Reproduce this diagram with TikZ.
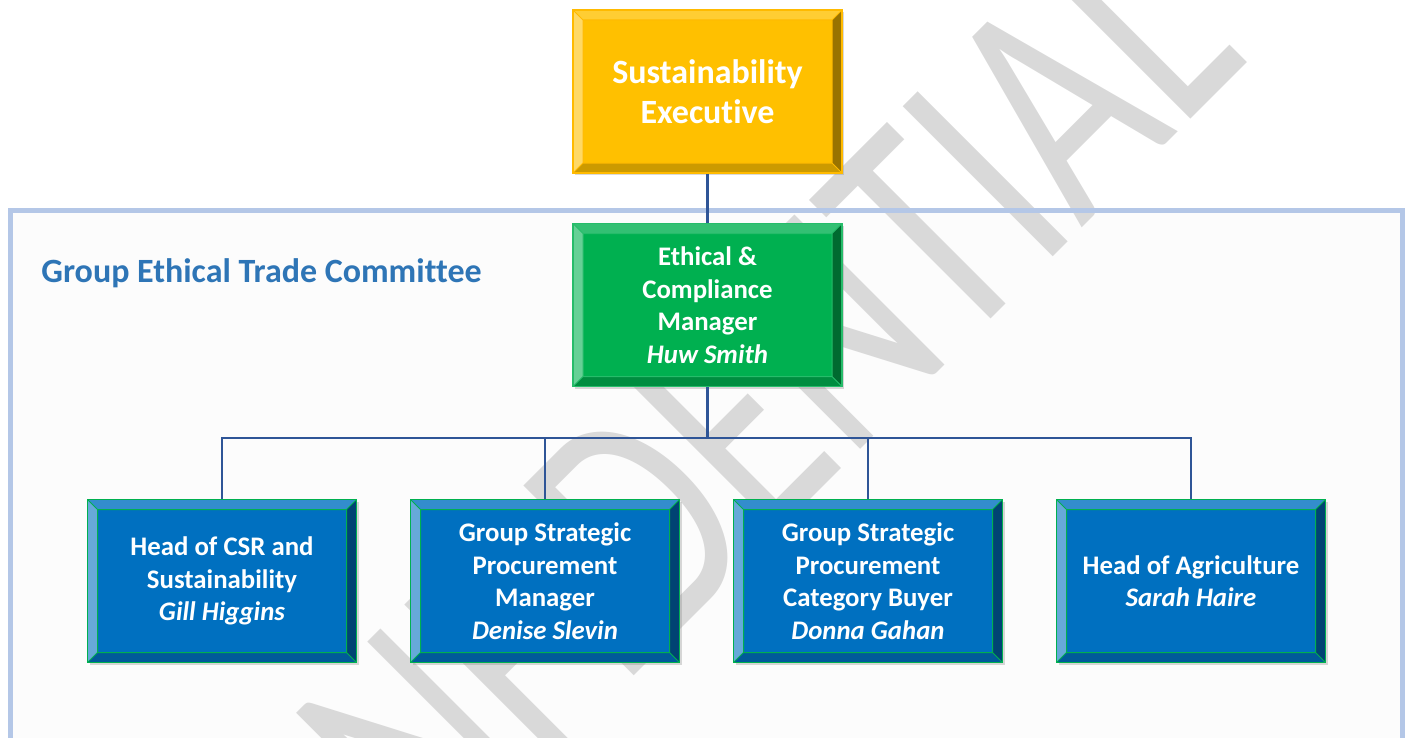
\documentclass[tikz,border=0pt]{standalone}
\usepackage{fontspec}
\setmainfont{Carlito}[Ligatures=NoCommon]
\newfontfamily\stampfont{Carlito}
\usetikzlibrary{shadows}

\definecolor{execyellow}{HTML}{FFC000}
\definecolor{ethicsgreen}{HTML}{00B050}
\definecolor{memberblue}{HTML}{0070C0}
\definecolor{linkblue}{HTML}{2F5597}
\definecolor{panelblue}{HTML}{B4C7E7}
\definecolor{titleblue}{HTML}{2E75B6}

% bevelled faces of a box, drawn inside its path picture
\newcommand{\bevelfaces}[2]{%
  \path (path picture bounding box.north west) coordinate (onw)
        (path picture bounding box.north east) coordinate (one)
        (path picture bounding box.south east) coordinate (ose)
        (path picture bounding box.south west) coordinate (osw);
  \path ([shift={(5pt,-5pt)}]onw) coordinate (inw)
        ([shift={(-5pt,-5pt)}]one) coordinate (ine)
        ([shift={(-5pt,5pt)}]ose) coordinate (ise)
        ([shift={(5pt,5pt)}]osw) coordinate (isw);
  \fill[#1!80!white] (onw) -- (one) -- (ine) -- (inw) -- cycle;
  \fill[#1!60!white] (onw) -- (inw) -- (isw) -- (osw) -- cycle;
  \fill[#1!60!black] (one) -- (ose) -- (ise) -- (ine) -- cycle;
  \fill[#1!80!black] (osw) -- (isw) -- (ise) -- (ose) -- cycle;
  \draw[#2, line width=0.5pt] (inw) rectangle (ise)
    (onw) -- (inw) (one) -- (ine) (ose) -- (ise) (osw) -- (isw);
}

\begin{document}
\begin{tikzpicture}[x=0.5pt, y=-0.5pt,
  orgbox/.style 2 args={rectangle, fill=#1, draw=#2, line width=0.6pt,
    minimum width=134.5pt, minimum height=81.5pt, inner sep=2pt,
    text=white, align=center, font=\bfseries\fontsize{13.4}{16.25}\selectfont,
    drop shadow={shadow xshift=1.2pt, shadow yshift=-1.2pt, opacity=0.3},
    path picture={\bevelfaces{#1}{#2}}},
  link/.style={draw=linkblue, line width=1.3pt},
  stampmark/.style={anchor=base east, rotate=45, yscale=1.39, transform shape,
    inner sep=0pt, text=black!15, font=\stampfont\fontsize{119}{119}\selectfont}]
\clip (0,0) rectangle (1408,738);
%
\fill[black!1] (10.5,210.5) rectangle (1402.5,780);
\node[stampmark] (stamp) at (1250,60) {CONFIDENTIAL};
\draw[panelblue, line width=2.5pt] (10.5,210.5) rectangle (1402.5,780);
\node[anchor=base west, inner sep=0pt, text=titleblue,
  font=\bfseries\fontsize{17}{20}\selectfont] (committee) at (41,282)
  {Group Ethical Trade Committee};
%
\node[orgbox={execyellow}{execyellow!90!orange},
  font=\bfseries\fontsize{17}{20}\selectfont] (exec) at (707.5,91.5)
  {Sustainability\\Executive};
\node[orgbox={ethicsgreen}{ethicsgreen!85!white}] (ethics) at (707.5,305)
  {Ethical \&\\Compliance\\Manager\\\textit{Huw Smith}};
%
\node[orgbox={memberblue}{ethicsgreen}] (csr) at (222,581)
  {Head of CSR and\\Sustainability\\\textit{Gill Higgins}};
\node[orgbox={memberblue}{ethicsgreen}] (procmgr) at (545,581)
  {Group Strategic\\Procurement\\Manager\\\textit{Denise Slevin}};
\node[orgbox={memberblue}{ethicsgreen}] (catbuyer) at (868,581)
  {Group Strategic\\Procurement\\Category Buyer\\\textit{Donna Gahan}};
\node[orgbox={memberblue}{ethicsgreen}] (agri) at (1191,581)
  {Head of Agriculture\\\textit{Sarah Haire}};
%
\coordinate (bus) at (707.5,438);
\draw[link] (exec) -- (ethics);
\draw[link] (ethics) -- (bus);
\foreach \member in {csr,procmgr,catbuyer,agri}
  \draw[link] (\member.north) |- (bus);
\end{tikzpicture}
\end{document}
